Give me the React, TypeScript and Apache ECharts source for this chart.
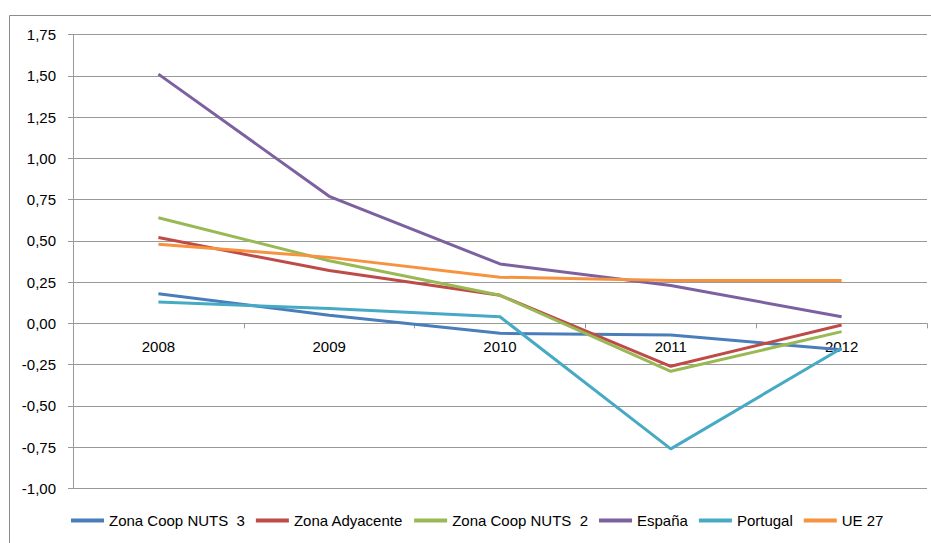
import React, { useEffect, useRef } from "react";
import * as echarts from "echarts";

const years = ["2008", "2009", "2010", "2011", "2012"];
const seriesNames = ["Zona Coop NUTS  3", "Zona Adyacente", "Zona Coop NUTS  2", "España", "Portugal", "UE 27"];
const nuts3 = [0.18, 0.05, -0.06, -0.07, -0.16];
const adyacente = [0.52, 0.32, 0.17, -0.26, -0.01];
const nuts2 = [0.64, 0.38, 0.17, -0.29, -0.05];
const espana = [1.51, 0.77, 0.36, 0.23, 0.04];
const portugal = [0.13, 0.09, 0.04, -0.76, -0.15];
const ue27 = [0.48, 0.40, 0.28, 0.26, 0.26];
const colors = ["#4A7EBB", "#BE4B48", "#98B954", "#7D60A0", "#46AAC5", "#F69240"];

const FONT = "'Liberation Sans', Arial, sans-serif";
const Y_MIN = -1;
const Y_MAX = 1.75;

export default function App() {
  const ref = useRef<HTMLDivElement>(null);
  useEffect(() => {
    if (!ref.current) return;
    const chart = echarts.init(ref.current, null, { renderer: "svg" });
    const data = [nuts3, adyacente, nuts2, espana, portugal, ue27];
    const top = 34.5;
    const bottom = 54.5;
    const plotH = 543 - top - bottom;
    const zeroOffset = -(plotH * (0 - Y_MIN)) / (Y_MAX - Y_MIN);
    chart.setOption({
      animation: false,
      textStyle: { fontFamily: FONT },
      grid: { left: 73, right: 4, top, bottom },
      graphic: [
        {
          type: "rect",
          shape: { x: 9.5, y: 15.5, width: 1000, height: 700 },
          style: { fill: "none", stroke: "#8c8c8c", lineWidth: 1 },
          silent: true,
        },
      ],
      legend: {
        bottom: 10,
        left: 66,
        itemWidth: 33,
        itemHeight: 4,
        itemGap: 11,
        icon: "rect",
        textStyle: { fontFamily: FONT, fontSize: 15, color: "#000" },
        data: seriesNames,
      },
      xAxis: {
        type: "category",
        data: years,
        boundaryGap: true,
        position: "bottom",
        offset: zeroOffset,
        axisLine: { onZero: false, lineStyle: { color: "#999", width: 1 } },
        axisTick: { show: true, length: 5, lineStyle: { color: "#999" } },
        axisLabel: { fontFamily: FONT, fontSize: 15, color: "#000", margin: 16 },
        splitLine: { show: false },
      },
      yAxis: {
        type: "value",
        min: Y_MIN,
        max: Y_MAX,
        interval: 0.25,
        axisLine: { show: true, onZero: false, lineStyle: { color: "#999", width: 1 } },
        axisTick: { show: true, length: 5, lineStyle: { color: "#999" } },
        axisLabel: {
          fontFamily: FONT,
          fontSize: 15,
          color: "#000",
          margin: 17,
          formatter: (v: number) => v.toFixed(2).replace(".", ","),
        },
        splitLine: { show: true, lineStyle: { color: "#999", width: 1 } },
      },
      series: seriesNames.map((name, i) => ({
        name,
        type: "line",
        data: data[i],
        symbol: "none",
        lineStyle: { width: 3, color: colors[i] },
        itemStyle: { color: colors[i] },
      })),
    });
    return () => chart.dispose();
  }, []);
  return <div ref={ref} style={{ width: 931, height: 543, position: "absolute", left: 0, top: 0 }} />;
}
